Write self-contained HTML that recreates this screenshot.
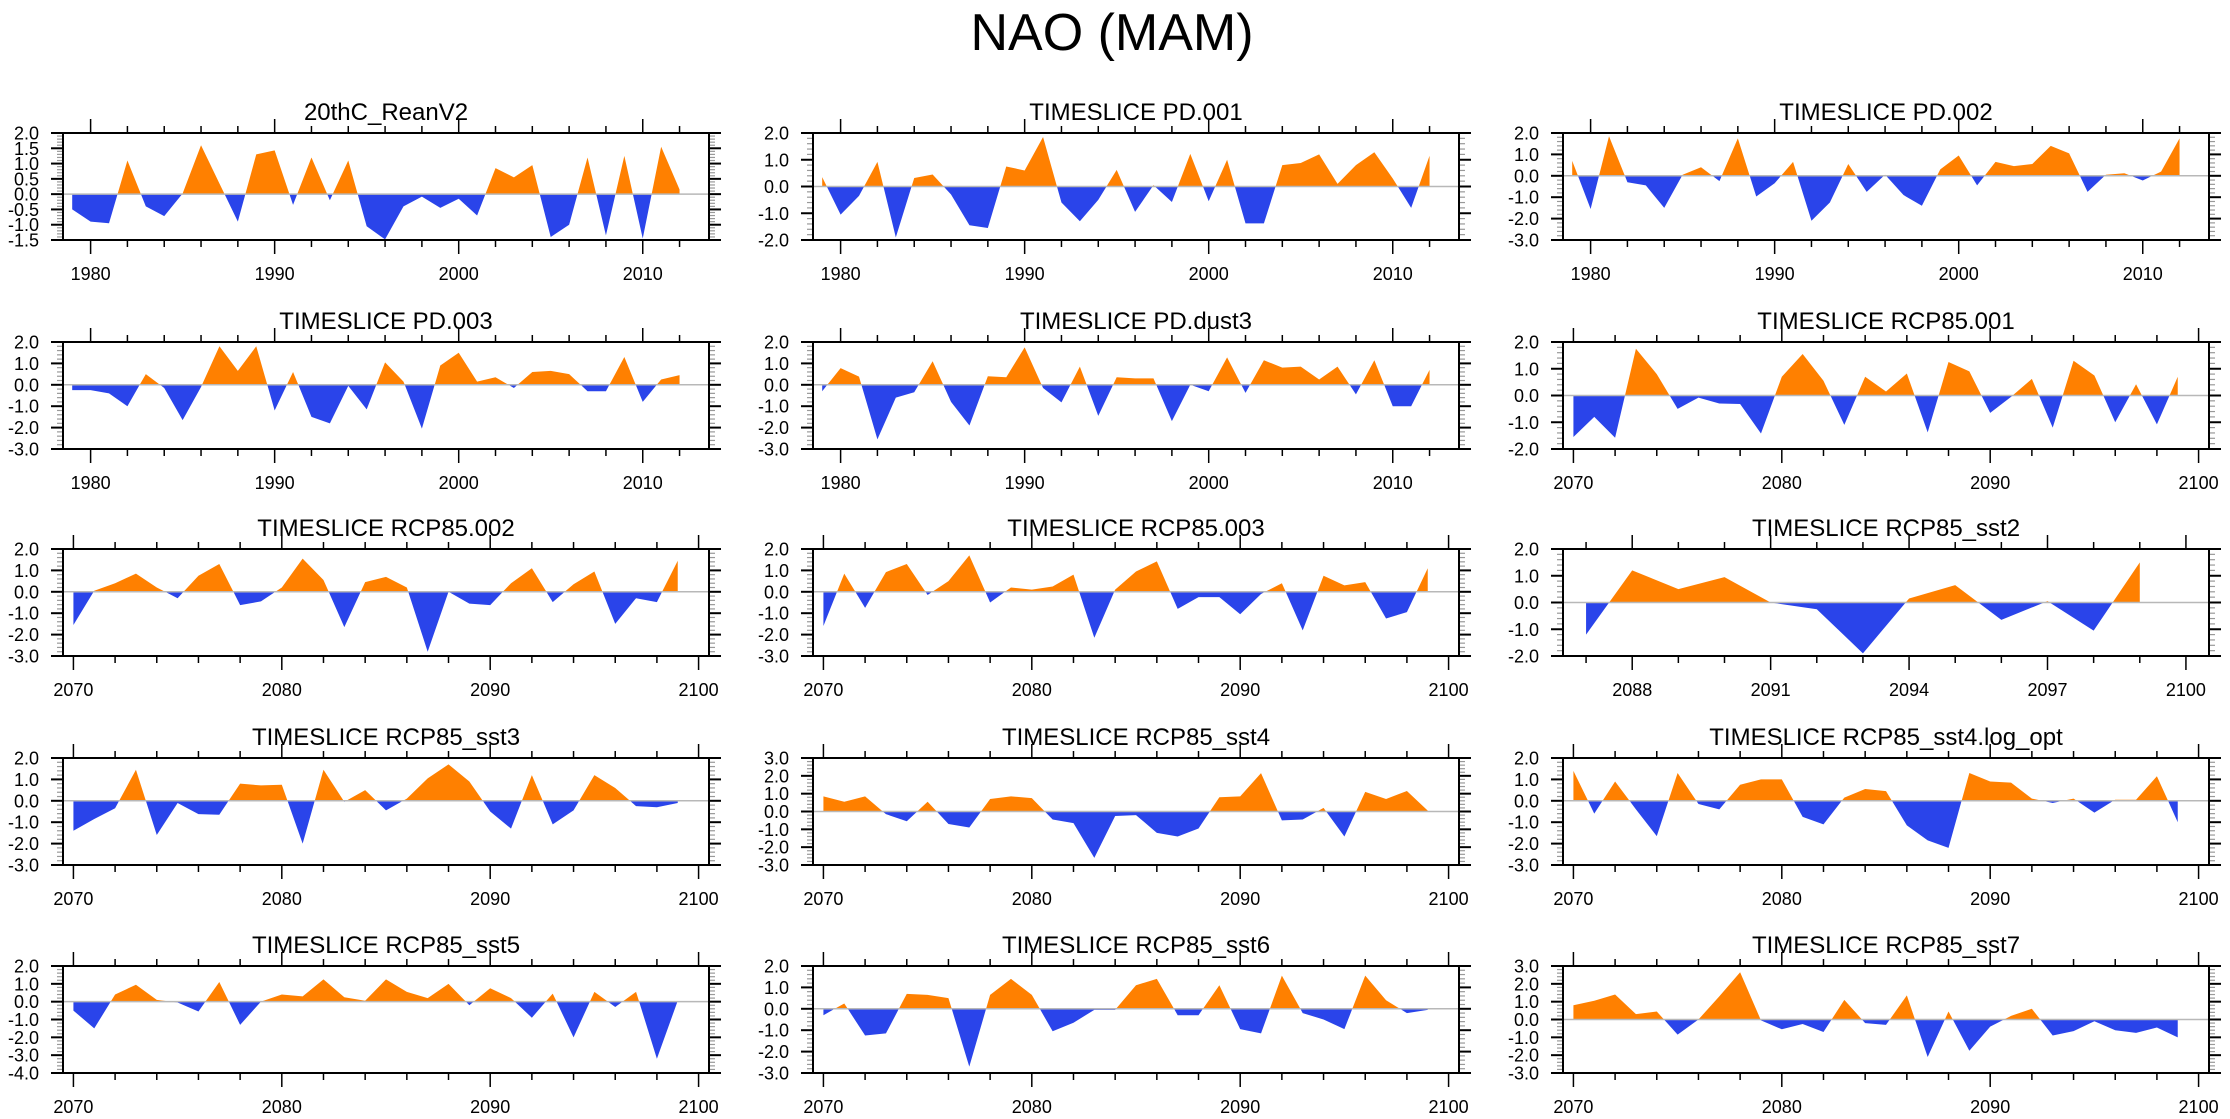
<!DOCTYPE html>
<html>
<head>
<meta charset="utf-8">
<style>
html,body{margin:0;padding:0;background:#fff;}
svg{display:block;}
text{font-family:"Liberation Sans",Arial,sans-serif;fill:#000;}
</style>
</head>
<body>
<svg id="chart" width="2230" height="1119" viewBox="0 0 2230 1119" xmlns="http://www.w3.org/2000/svg">
<rect x="0" y="0" width="2230" height="1119" fill="#fff"/>
<text x="1112" y="50" font-size="52" text-anchor="middle">NAO (MAM)</text>
</svg>
<script>
const panelTitles = ["20thC_ReanV2","TIMESLICE PD.001","TIMESLICE PD.002","TIMESLICE PD.003","TIMESLICE PD.dust3","TIMESLICE RCP85.001","TIMESLICE RCP85.002","TIMESLICE RCP85.003","TIMESLICE RCP85_sst2","TIMESLICE RCP85_sst3","TIMESLICE RCP85_sst4","TIMESLICE RCP85_sst4.log_opt","TIMESLICE RCP85_sst5","TIMESLICE RCP85_sst6","TIMESLICE RCP85_sst7"];
const startYears = [1979,1979,1979,1979,1979,2070,2070,2070,2087,2070,2070,2070,2070,2070,2070];
const yMins = [-1.5,-2,-3,-3,-3,-2,-3,-3,-2,-3,-3,-3,-4,-3,-3];
const yMaxs = [2,2,2,2,2,2,2,2,2,2,3,2,2,2,3];
const yTickSteps = [0.5,1,1,1,1,1,1,1,1,1,1,1,1,1,1];

const vRean = [-0.5,-0.9,-0.95,1.1,-0.4,-0.72,0.02,1.6,0.35,-0.9,1.3,1.43,-0.35,1.2,-0.2,1.1,-1.05,-1.48,-0.4,-0.08,-0.45,-0.15,-0.7,0.85,0.55,0.95,-1.4,-1.0,1.2,-1.35,1.25,-1.45,1.55,0.15];
const vPD001 = [0.35,-1.05,-0.35,0.92,-1.9,0.32,0.45,-0.3,-1.45,-1.55,0.75,0.6,1.85,-0.6,-1.3,-0.5,0.62,-0.95,0.05,-0.58,1.22,-0.55,1.0,-1.38,-1.38,0.8,0.88,1.2,0.1,0.8,1.28,0.3,-0.8,1.15];
const vPD002 = [0.7,-1.55,1.85,-0.3,-0.45,-1.5,0.05,0.4,-0.25,1.75,-0.97,-0.35,0.65,-2.1,-1.25,0.55,-0.75,0.05,-0.9,-1.4,0.3,0.95,-0.45,0.65,0.45,0.55,1.4,1.05,-0.75,0.05,0.12,-0.22,0.2,1.75];
const vPD003 = [-0.25,-0.25,-0.4,-1.0,0.5,-0.15,-1.65,-0.1,1.8,0.65,1.8,-1.2,0.6,-1.5,-1.8,-0.05,-1.15,1.05,0.15,-2.05,0.9,1.5,0.15,0.35,-0.15,0.6,0.65,0.5,-0.3,-0.3,1.3,-0.8,0.25,0.45];
const vPDdust3 = [-0.3,0.78,0.38,-2.55,-0.6,-0.35,1.1,-0.8,-1.9,0.4,0.35,1.75,-0.15,-0.82,0.85,-1.45,0.35,0.3,0.3,-1.7,0.0,-0.3,1.28,-0.38,1.15,0.8,0.85,0.25,0.85,-0.45,1.15,-1.0,-1.0,0.7];
const vRCP001 = [-1.55,-0.8,-1.58,1.75,0.8,-0.5,-0.08,-0.3,-0.32,-1.42,0.7,1.55,0.55,-1.1,0.7,0.15,0.82,-1.38,1.25,0.9,-0.65,-0.05,0.62,-1.2,1.3,0.75,-1.0,0.42,-1.08,0.7];
const vRCP002 = [-1.55,0.05,0.4,0.85,0.2,-0.3,0.75,1.3,-0.62,-0.45,0.2,1.55,0.55,-1.65,0.45,0.7,0.2,-2.8,0.0,-0.55,-0.62,0.4,1.1,-0.48,0.35,0.95,-1.5,-0.3,-0.48,1.45];
const vRCP003 = [-1.6,0.85,-0.75,0.92,1.3,-0.15,0.5,1.7,-0.5,0.2,0.1,0.25,0.8,-2.15,0.1,0.95,1.42,-0.8,-0.25,-0.25,-1.05,-0.1,0.4,-1.8,0.75,0.3,0.45,-1.25,-0.95,1.1];
const vSst2 = [-1.2,1.2,0.5,0.95,0.0,-0.25,-1.9,0.15,0.65,-0.65,0.05,-1.05,1.5];
const vSst3 = [-1.4,-0.85,-0.35,1.45,-1.6,-0.1,-0.62,-0.65,0.8,0.72,0.75,-2.0,1.45,-0.05,0.5,-0.45,0.1,1.05,1.7,0.9,-0.5,-1.3,1.2,-1.1,-0.45,1.2,0.6,-0.25,-0.3,-0.1];
const vSst4 = [0.85,0.55,0.85,-0.15,-0.55,0.55,-0.7,-0.9,0.7,0.85,0.75,-0.45,-0.65,-2.6,-0.25,-0.2,-1.2,-1.4,-0.95,0.8,0.85,2.15,-0.5,-0.45,0.2,-1.4,1.1,0.7,1.15,0.05];
const vSst4log = [1.4,-0.6,0.9,-0.4,-1.65,1.3,-0.15,-0.4,0.75,1.0,1.0,-0.75,-1.1,0.15,0.55,0.45,-1.15,-1.85,-2.2,1.3,0.9,0.85,0.1,-0.1,0.1,-0.55,0.05,0.05,1.15,-1.0];
const vSst5 = [-0.5,-1.5,0.4,0.95,0.1,-0.05,-0.55,1.1,-1.3,0.0,0.4,0.3,1.25,0.25,0.05,1.25,0.55,0.2,1.0,-0.2,0.75,0.2,-0.9,0.45,-2.0,0.55,-0.3,0.55,-3.2,0.05];
const vSst6 = [-0.3,0.25,-1.25,-1.15,0.7,0.65,0.5,-2.7,0.65,1.4,0.65,-1.05,-0.65,-0.05,-0.05,1.1,1.4,-0.3,-0.3,1.1,-0.95,-1.15,1.55,-0.2,-0.5,-0.95,1.55,0.4,-0.2,-0.05];
const vSst7 = [0.8,1.05,1.4,0.3,0.45,-0.85,0.0,1.3,2.65,-0.05,-0.55,-0.25,-0.7,1.1,-0.2,-0.3,1.35,-2.1,0.45,-1.75,-0.4,0.2,0.6,-0.9,-0.65,-0.1,-0.6,-0.75,-0.45,-1.0];

const seriesList = [vRean,vPD001,vPD002,vPD003,vPDdust3,vRCP001,vRCP002,vRCP003,vSst2,vSst3,vSst4,vSst4log,vSst5,vSst6,vSst7];

const NS = "http://www.w3.org/2000/svg";
const svg = document.getElementById("chart");
const colLeft = [63,813,1563], rowTop = [133,342,549,758,966];
const PW = 646, PH = 107;
const ORANGE = "#ff8000", BLUE = "#2a44ea";

function mk(tag, attrs, parent) {
  const e = document.createElementNS(NS, tag);
  for (const k in attrs) e.setAttribute(k, attrs[k]);
  (parent || svg).appendChild(e);
  return e;
}
function slug(s){return s.toLowerCase().replace(/[^a-z0-9]+/g,'-').replace(/^-|-$/g,'');}

function xDomain(i) {
  const s = startYears[i];
  if (s === 1979) return [1978.5, 2013.6];
  if (s === 2087) return [2086.5, 2100.5];
  return [2069.5, 2100.5];
}

function drawPanel(i) {
  const col = i % 3, row = Math.floor(i / 3);
  const L = colLeft[col], T = rowTop[row], R = L + PW, B = T + PH;
  const [x0, x1] = xDomain(i);
  const y0 = yMins[i], y1 = yMaxs[i];
  const X = v => L + (v - x0) / (x1 - x0) * PW;
  const Y = v => B - (v - y0) / (y1 - y0) * PH;
  const vals = seriesList[i];
  const g = mk("g", {});
  
  

  const title = mk("text", {x: (L + R) / 2, y: T - 13, "font-size": 24, "text-anchor": "middle"}, g);
  title.textContent = panelTitles[i];
  
  

  // fills
  const pts = vals.map((v, k) => [startYears[i] + k, v]);
  function fillPoly(sign) {
    let d = [];
    for (let k = 0; k < pts.length; k++) {
      const [xa, va] = pts[k];
      const ca = sign > 0 ? Math.max(va, 0) : Math.min(va, 0);
      d.push([X(xa), Y(ca)]);
      if (k < pts.length - 1) {
        const [xb, vb] = pts[k + 1];
        if ((va > 0 && vb < 0) || (va < 0 && vb > 0)) {
          const xc = xa + (0 - va) / (vb - va) * (xb - xa);
          d.push([X(xc), Y(0)]);
        }
      }
    }
    let s = "M" + X(pts[0][0]) + "," + Y(0);
    d.forEach(p => s += "L" + p[0].toFixed(2) + "," + p[1].toFixed(2));
    s += "L" + X(pts[pts.length - 1][0]) + "," + Y(0) + "Z";
    return s;
  }
  const pos = mk("path", {d: fillPoly(1), fill: ORANGE}, g);
  
  
  const neg = mk("path", {d: fillPoly(-1), fill: BLUE}, g);
  
  

  const zl = mk("line", {x1: L, x2: R, y1: Y(0), y2: Y(0), stroke: "#b8b8b8", "stroke-width": 1.5}, g);
  
  

  // y ticks
  const step = yTickSteps[i], minor = step / 5;
  const nMinor = Math.round((y1 - y0) / minor);
  for (let m = 0; m <= nMinor; m++) {
    const v = y0 + m * minor, yy = Y(v);
    const isMajor = m % 5 === 0;
    const len = isMajor ? 12 : 6;
    const c = isMajor ? "#000" : "#999";
    mk("line", {x1: L - len, x2: L, y1: yy, y2: yy, stroke: c, "stroke-width": isMajor ? 2 : 1.2}, g);
    mk("line", {x1: R, x2: R + len, y1: yy, y2: yy, stroke: c, "stroke-width": isMajor ? 2 : 1.2}, g);
    if (isMajor) {
      const t = mk("text", {x: L - 24, y: yy + 6.5, "font-size": 18, "text-anchor": "end"}, g);
      t.textContent = v.toFixed(1);
      
      
    }
  }
  // x ticks
  const s0 = Math.ceil(x0), s1 = Math.floor(x1);
  for (let yr = s0; yr <= s1; yr++) {
    let major, show;
    if (startYears[i] === 2087) { major = (yr - 2088) % 3 === 0; show = true; }
    else { major = yr % 10 === 0; show = yr % 2 === 0; }
    if (!show) continue;
    const xx = X(yr), len = major ? 14 : 7;
    mk("line", {x1: xx, x2: xx, y1: T - len, y2: T, stroke: "#000", "stroke-width": 1.5}, g);
    mk("line", {x1: xx, x2: xx, y1: B, y2: B + len, stroke: "#000", "stroke-width": 1.5}, g);
    if (major) {
      const t = mk("text", {x: xx, y: B + 40, "font-size": 18, "text-anchor": "middle"}, g);
      t.textContent = String(yr);
      
      
    }
  }
  const fr = mk("rect", {x: L, y: T, width: PW, height: PH, fill: "none", stroke: "#000", "stroke-width": 2}, g);
  
  
}
for (let i = 0; i < 15; i++) drawPanel(i);
</script>
</body>
</html>
